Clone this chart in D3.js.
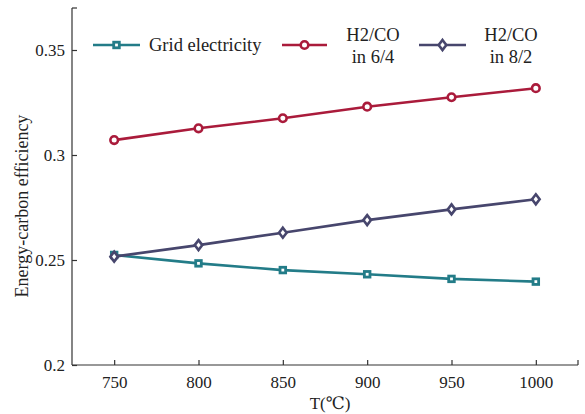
<!DOCTYPE html>
<html>
<head>
<meta charset="utf-8">
<script src="https://cdn.jsdelivr.net/npm/d3@7"></script>
<style>
  html, body { margin: 0; padding: 0; background: #fff; }
  svg { display: block; }
  svg text { font-family: "Liberation Serif", "Times New Roman", "DejaVu Serif", serif; }
</style>
</head>
<body>
<svg id="chart" width="585" height="414"></svg>
<script>
// Temperature (°C)
const temperatures = [750, 800, 850, 900, 950, 1000];
// Energy-carbon efficiency per configuration
const gridElectricity = [0.2524, 0.2484, 0.2452, 0.2432, 0.2410, 0.2397];
const h2co64 = [0.3071, 0.3127, 0.3175, 0.3230, 0.3275, 0.3318];
const h2co82 = [0.2516, 0.2571, 0.2630, 0.2690, 0.2741, 0.2789];
const xTicks = [750, 800, 850, 900, 950, 1000];
const yTicks = [0.2, 0.25, 0.3, 0.35];
const yTickLabels = ["0.2", "0.25", "0.3", "0.35"];

const series = [
  { name: ["Grid electricity"], values: gridElectricity, color: "#237c88", marker: "square" },
  { name: ["H2/CO", "in 6/4"], values: h2co64, color: "#aa1b3b", marker: "circle" },
  { name: ["H2/CO", "in 8/2"], values: h2co82, color: "#47466d", marker: "diamond" }
];

const SERIF = "'Liberation Serif', 'Times New Roman', 'DejaVu Serif', serif";
const svg = d3.select("#chart");
const x = d3.scaleLinear().domain([725, 1025]).range([72, 578]);
const y = d3.scaleLinear().domain([0.2, 0.37]).range([365, 8]);

// Axes with inward ticks
const xAxis = d3.axisBottom(x).tickValues(xTicks).tickSize(-5).tickPadding(11).tickFormat(d3.format("d"));
const gx = svg.append("g").attr("transform", `translate(0,${y(0.2)})`).call(xAxis);
const yAxis = d3.axisLeft(y).tickValues(yTicks).tickSize(-5).tickPadding(7)
  .tickFormat((d, i) => yTickLabels[i]);
const gy = svg.append("g").attr("transform", `translate(${x(725)},0)`).call(yAxis);

[gx, gy].forEach(g => {
  g.attr("font-family", SERIF);
  g.select(".domain").attr("stroke", "#333").attr("stroke-width", 1.2);
  g.selectAll(".tick line").attr("stroke", "#333").attr("stroke-width", 1.2);
  g.selectAll(".tick text").attr("fill", "#222").attr("font-size", 17).attr("font-family", SERIF);
});
// plain frame lines with end caps
gx.select(".domain").attr("d", `M${x(725)},0H${x(1025)}`);
gy.select(".domain").attr("d", `M0,${y(0.2)}V${y(0.37)}`);
gx.append("line").attr("x1", x(1025)).attr("x2", x(1025)).attr("y1", 0).attr("y2", -5)
  .attr("stroke", "#333").attr("stroke-width", 1.2);
gy.append("line").attr("x1", 0).attr("x2", 5).attr("y1", y(0.37)).attr("y2", y(0.37))
  .attr("stroke", "#333").attr("stroke-width", 1.2);

// Axis titles
svg.append("text").attr("x", 330).attr("y", 409).attr("text-anchor", "middle")
  .attr("font-family", SERIF).attr("font-size", 17).attr("fill", "#222").text("T(℃)");
svg.append("text").attr("transform", `translate(28,206) rotate(-90)`)
  .attr("text-anchor", "middle").attr("font-family", SERIF).attr("font-size", 18).attr("fill", "#222")
  .text("Energy-carbon efficiency");

function drawMarker(g, type, cx, cy, color) {
  if (type === "square") {
    g.append("rect").attr("x", cx - 2.8).attr("y", cy - 2.8).attr("width", 5.6).attr("height", 5.6)
      .attr("fill", "#fff").attr("stroke", color).attr("stroke-width", 2.8);
  } else if (type === "circle") {
    g.append("circle").attr("cx", cx).attr("cy", cy).attr("r", 3.8)
      .attr("fill", "#fff").attr("stroke", color).attr("stroke-width", 2.6);
  } else {
    g.append("path").attr("d", `M${cx},${cy - 5}L${cx + 3.8},${cy}L${cx},${cy + 5}L${cx - 3.8},${cy}Z`)
      .attr("fill", "#fff").attr("stroke", color).attr("stroke-width", 2.6);
  }
}

const line = d3.line().x((d, i) => x(temperatures[i])).y(d => y(d));
// red first, then grid, then 8/2 on top
const drawOrder = [1, 0, 2];
drawOrder.forEach(k => {
  const s = series[k];
  const g = svg.append("g");
  g.append("path").datum(s.values).attr("d", line).attr("fill", "none")
    .attr("stroke", s.color).attr("stroke-width", 2.6);
  s.values.forEach((v, i) => drawMarker(g, s.marker, x(temperatures[i]), y(v), s.color));
});

// Legend
const legendItems = [
  { x1: 93, x2: 140, textX: 149, anchor: "start" },
  { x1: 282, x2: 327, textX: 373, anchor: "middle" },
  { x1: 419, x2: 466, textX: 511, anchor: "middle" }
];
const legendY = 45;
series.forEach((s, k) => {
  const L = legendItems[k];
  const g = svg.append("g");
  g.append("line").attr("x1", L.x1).attr("x2", L.x2).attr("y1", legendY).attr("y2", legendY)
    .attr("stroke", s.color).attr("stroke-width", 2.6);
  drawMarker(g, s.marker, (L.x1 + L.x2) / 2, legendY, s.color);
  const t = g.append("text").attr("text-anchor", L.anchor).attr("font-family", SERIF)
    .attr("font-size", 18.5).attr("fill", "#222");
  if (s.name.length === 1) {
    t.append("tspan").attr("x", L.textX).attr("y", legendY + 6).text(s.name[0]);
  } else {
    t.append("tspan").attr("x", L.textX).attr("y", legendY - 4).text(s.name[0]);
    t.append("tspan").attr("x", L.textX).attr("y", legendY + 18).text(s.name[1]);
  }
});
</script>
</body>
</html>
